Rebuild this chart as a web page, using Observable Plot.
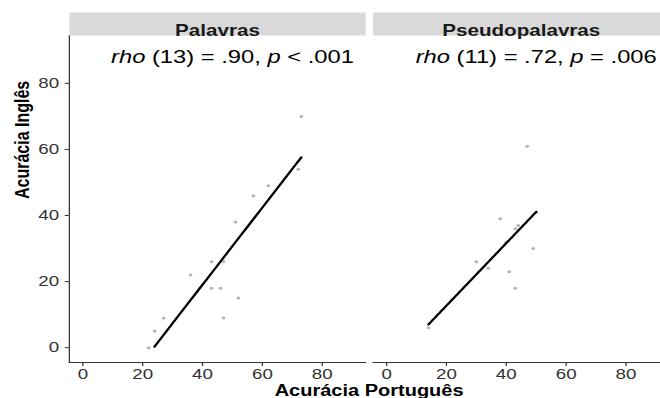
<!DOCTYPE html>
<html><head><meta charset="utf-8">
<script src="https://cdn.jsdelivr.net/npm/d3@7"></script>
<script src="https://cdn.jsdelivr.net/npm/@observablehq/plot@0.6"></script>
<style>
html,body{margin:0;padding:0;background:#fff;overflow:hidden;}
#chart svg{display:block;}
g[aria-label^="x-axis"] text, g[aria-label^="y-axis"] text{fill:#333;}
</style></head><body><div id="chart"></div>
<script>
// ---- data ----
const panels = ["Palavras", "Pseudopalavras"];
const palavrasPortugues = [73, 72, 62, 57, 51, 43, 47, 36, 43, 46, 52, 47, 27, 24, 22];
const palavrasIngles    = [70, 54, 49, 46, 38, 26, 26, 22, 18, 18, 15,  9,  9,  5,  0];
const pseudoPortugues   = [47, 38, 44, 43, 40, 49, 30, 34, 41, 43, 14, 50];
const pseudoIngles      = [61, 39, 37, 36, 32, 30, 26, 24, 23, 18,  6, 41];
const statsLabels = ["rho (13) = .90, p < .001", "rho (11) = .72, p = .006"];
const xTicks = [0, 20, 40, 60, 80];
const yTicks = [0, 20, 40, 60, 80];
const axisLimits = [0, 90];
const xTitle = "Acurácia Português";
const yTitle = "Acurácia Inglês";

// ---- tables ----
const rows = [
  ...palavrasPortugues.map((x, i) => ({panel: panels[0], x, y: palavrasIngles[i]})),
  ...pseudoPortugues.map((x, i) => ({panel: panels[1], x, y: pseudoIngles[i]}))
];
function fit(xs, ys, panel) {
  const mx = d3.mean(xs), my = d3.mean(ys);
  const b = d3.sum(xs, (x, i) => (x - mx) * (ys[i] - my)) / d3.sum(xs, x => (x - mx) ** 2);
  const a = my - b * mx;
  const [x0, x1] = d3.extent(xs);
  return d3.range(80).map(i => x0 + (x1 - x0) * i / 79)
    .map(x => ({panel, x, y: a + b * x}))
    .filter(d => d.y >= axisLimits[0] && d.y <= axisLimits[1]);
}
const fitRows = [...fit(palavrasPortugues, palavrasIngles, panels[0]), ...fit(pseudoPortugues, pseudoIngles, panels[1])];
const statsRows = panels.map((p, i) => ({panel: p, label: statsLabels[i]}));

// ---- layout ----
const S = 1.25;              // horizontal stretch of the reference image
const fullWidth = 670;
const W = fullWidth / S, H = 398;
const mLeft = 67 / S, mTop = 35, mBottom = 36;
const panelH = H - mTop - mBottom;
const pad = 7 / 305;
const span = (axisLimits[1] - axisLimits[0]) * 0.05;
const dom = [axisLimits[0] - span, axisLimits[1] + span];
const bw = (W - mLeft) / (2 - pad) * (1 - pad);
const gap = (W - mLeft) - 2 * bw;

const chart = Plot.plot({
  width: W, height: H,
  marginLeft: mLeft, marginRight: 0, marginTop: mTop, marginBottom: mBottom,
  style: {fontFamily: "'Liberation Sans', Arial, sans-serif", fontSize: "15px", color: "#333", background: "#fff", overflow: "visible"},
  fx: {domain: panels, paddingInner: pad, paddingOuter: 0, axis: null, label: null},
  x: {domain: dom, ticks: xTicks, tickSize: 4, tickPadding: 2, line: true, label: null},
  y: {domain: dom, ticks: yTicks, tickSize: 4 / S, tickPadding: 5, line: true, label: null},
  marks: [
    Plot.frame({fill: "#d9d9d9", insetTop: -23, insetBottom: panelH}),
    Plot.text(panels, {fx: d => d, text: d => d, frameAnchor: "top", dy: -11.5, fontWeight: "bold", fontSize: 16.5, fill: "#1a1a1a"}),
    Plot.dot(rows, {fx: "panel", x: "x", y: "y", r: 1.5, fill: "#b5b5b5", stroke: "none"}),
    Plot.line(fitRows, {fx: "panel", x: "x", y: "y", z: "panel", stroke: "#000", strokeWidth: 2}),
    Plot.text(statsRows, {fx: "panel", x: () => 50, y: () => 88, text: "label", fontSize: 19, fill: "#000"}),
    Plot.text([yTitle], {fx: () => panels[0], text: d => d, frameAnchor: "left", rotate: -90, dx: (20.5 - 67) / S, fontWeight: "bold", fontSize: 16, fill: "#000"}),
    Plot.text([xTitle], {fx: () => panels[0], text: d => d, frameAnchor: "bottom-right", textAnchor: "middle", lineAnchor: "bottom", dx: gap / 2, dy: 33, fontWeight: "bold", fontSize: 16, fill: "#000"})
  ]
});

// italic "rho" and "p"
d3.select(chart).selectAll("text")
  .filter(function() { return statsLabels.includes(this.textContent); })
  .each(function() {
    const parts = this.textContent.split(/\b(rho|p)\b/);
    const t = d3.select(this).text("");
    parts.forEach((s, i) => { if (s) t.append("tspan").attr("font-style", i % 2 ? "italic" : null).text(s); });
  });

// stretch horizontally like the reference
chart.setAttribute("width", W * S);
chart.setAttribute("preserveAspectRatio", "none");
chart.style.maxWidth = "none";
chart.style.width = (W * S) + "px";
chart.style.height = H + "px";
document.getElementById("chart").appendChild(chart);
</script></body></html>
